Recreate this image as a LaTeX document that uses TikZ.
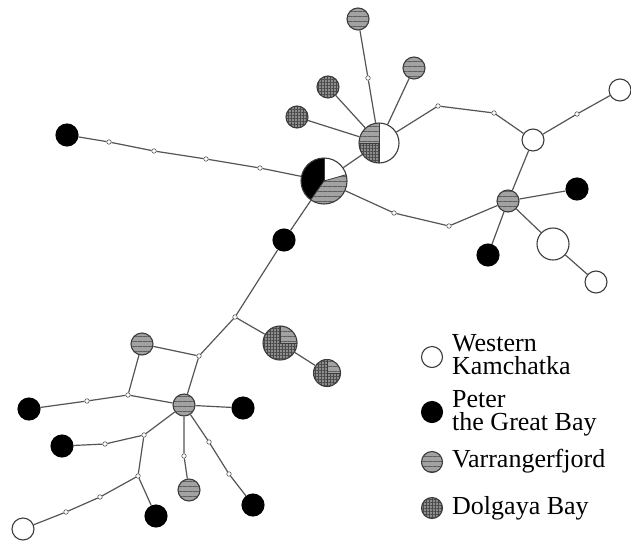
\documentclass[tikz,border=0pt]{standalone}
\usepackage{fontspec}
\setmainfont{Liberation Serif}
\usetikzlibrary{patterns.meta}
\definecolor{edgec}{HTML}{555555}
\definecolor{rimc}{HTML}{3C3C3C}
\definecolor{vgray}{HTML}{A2A2A2}
\definecolor{vline}{HTML}{5E5E5E}
\definecolor{dgray}{HTML}{8E8E8E}
\definecolor{dline}{HTML}{4A4A4A}
\newcommand\pwedge[3]{\fill[#1] (path picture bounding box.center) -- ++(#2:60) arc[start angle=#2,end angle=#3,radius=60] -- cycle;}
\newcommand\psep[1]{\draw[rimc,line width=0.8pt] (path picture bounding box.center) -- ++(#1:60);}
\tikzset{
  vfill/.style={fill=vgray, postaction={pattern={Lines[angle=0,distance=5pt,line width=0.9pt]}, pattern color=vline}},
  dfill/.style={fill=dgray, postaction={pattern={Hatch[angle=0,distance=3pt,line width=0.5pt]}, pattern color=dline}},
  wfill/.style={fill=white},
  bfill/.style={fill=black},
  hap/.style={circle, draw=rimc, line width=1.1pt, inner sep=0pt, minimum size=22pt},
  wnode/.style={hap, fill=white},
  bnode/.style={hap, fill=black, draw=black},
  vnode/.style={hap, path picture={\pwedge{vfill}{0}{360}}},
  dnode/.style={hap, path picture={\pwedge{dfill}{0}{360}}},
  dot/.style={circle, draw=edgec, fill=white, line width=0.6pt, inner sep=0pt, minimum size=4.5pt},
  link/.style={draw=edgec, line width=1.2pt},
  leg/.style={anchor=base west, inner sep=0pt, align=left, font=\fontsize{26}{23}\selectfont}
}
\begin{document}
\begin{tikzpicture}[x=1pt,y=-1pt]
\useasboundingbox (0,0) rectangle (631,541);
% hubs
\node[hap, minimum size=46pt, path picture={\pwedge{wfill}{-16}{-90}\pwedge{bfill}{-90}{-235}\pwedge{vfill}{-235}{-376}\psep{-16}\psep{-90}\psep{-235}}] (H1) at (324,181) {};
\node[hap, minimum size=40pt, path picture={\pwedge{wfill}{90}{-90}\pwedge{vfill}{-90}{-180}\pwedge{dfill}{-180}{-270}\psep{90}\psep{-90}\psep{180}}] (H2) at (379,143) {};
\node[hap, minimum size=34pt, path picture={\pwedge{dfill}{0}{360}\pwedge{vfill}{0}{-90}\psep{0}\psep{-90}}] (D1) at (280,343) {};
\node[hap, minimum size=27pt, path picture={\pwedge{dfill}{0}{360}\pwedge{vfill}{0}{-90}\psep{0}\psep{-90}\psep{90}}] (D2) at (327,373) {};
% top cluster
\node[vnode] (T1) at (358,19) {};
\node[vnode] (T2) at (414,68) {};
\node[dnode] (Da) at (328,87) {};
\node[dnode] (Db) at (297,117) {};
\node[dot] (p1) at (368,78) {};
\node[dot] (p2) at (438,106) {};
\node[dot] (p3) at (494,113) {};
\node[wnode] (W1) at (533,140) {};
\node[dot] (p4) at (577,114) {};
\node[wnode] (W2) at (620,90) {};
\node[vnode] (V2) at (508,201) {};
\node[bnode] (B1) at (577,189) {};
\node[bnode] (B2) at (488,255) {};
\node[wnode, minimum size=32pt] (W3) at (553,244) {};
\node[wnode] (W4) at (596,282) {};
\node[dot] (p5) at (394,213) {};
\node[dot] (p6) at (449,226) {};
% left branch
\node[bnode] (B3) at (67,135) {};
\node[dot] (q1) at (109,142) {};
\node[dot] (q2) at (154,151) {};
\node[dot] (q3) at (206,159) {};
\node[dot] (q4) at (260,168) {};
% lower part
\node[bnode] (B4) at (284,240) {};
\node[dot] (r1) at (235,317) {};
\node[dot] (r2) at (199,356) {};
\node[vnode] (V3) at (142,344) {};
\node[dot] (r3) at (128,395) {};
\node[vnode] (V4) at (184,405) {};
\node[bnode] (B5) at (243,408) {};
\node[dot] (r4) at (87,401) {};
\node[bnode] (B6) at (29,409) {};
\node[dot] (r5) at (144,435) {};
\node[dot] (r6) at (105,444) {};
\node[bnode] (B7) at (62,446) {};
\node[dot] (r7) at (138,476) {};
\node[dot] (r8) at (100,497) {};
\node[dot] (r9) at (66,512) {};
\node[wnode] (W5) at (23,529) {};
\node[bnode] (B8) at (156,516) {};
\node[dot] (r10) at (184,456) {};
\node[vnode] (V5) at (189,490) {};
\node[dot] (r11) at (209,442) {};
\node[dot] (r12) at (229,474) {};
\node[bnode] (B9) at (253,505) {};
% links
\path[link] (H1) -- (H2);
\path[link] (H2) -- (p1) -- (T1);
\path[link] (H2) -- (T2);
\path[link] (H2) -- (Da);
\path[link] (H2) -- (Db);
\path[link] (H2) -- (p2) -- (p3) -- (W1);
\path[link] (W1) -- (p4) -- (W2);
\path[link] (W1) -- (V2);
\path[link] (V2) -- (B1);
\path[link] (V2) -- (B2);
\path[link] (V2) -- (W3);
\path[link] (W3) -- (W4);
\path[link] (H1) -- (p5) -- (p6) -- (V2);
\path[link] (H1) -- (q4) -- (q3) -- (q2) -- (q1) -- (B3);
\path[link] (H1) -- (B4);
\path[link] (B4) -- (r1);
\path[link] (r1) -- (D1);
\path[link] (D1) -- (D2);
\path[link] (r1) -- (r2);
\path[link] (r2) -- (V3);
\path[link] (V3) -- (r3);
\path[link] (r3) -- (V4);
\path[link] (r2) -- (V4);
\path[link] (r3) -- (r4) -- (B6);
\path[link] (V4) -- (B5);
\path[link] (V4) -- (r5);
\path[link] (r5) -- (r6) -- (B7);
\path[link] (r5) -- (r7);
\path[link] (r7) -- (r8) -- (r9) -- (W5);
\path[link] (r7) -- (B8);
\path[link] (V4) -- (r10) -- (V5);
\path[link] (V4) -- (r11) -- (r12) -- (B9);
% legend
\node[wnode, minimum size=21pt] (LW) at (432,357) {};
\node[bnode, minimum size=21pt] (LB) at (432,412) {};
\node[vnode, minimum size=21pt] (LV) at (432,462) {};
\node[dnode, minimum size=21pt] (LD) at (432,508) {};
\node[leg] (tW) at (452,374) {Western\\Kamchatka};
\node[leg] (tB) at (452,430) {Peter\\the Great Bay};
\node[leg] (tV) at (452,467) {Varrangerfjord};
\node[leg] (tD) at (452,514) {Dolgaya Bay};
\end{tikzpicture}
\end{document}
